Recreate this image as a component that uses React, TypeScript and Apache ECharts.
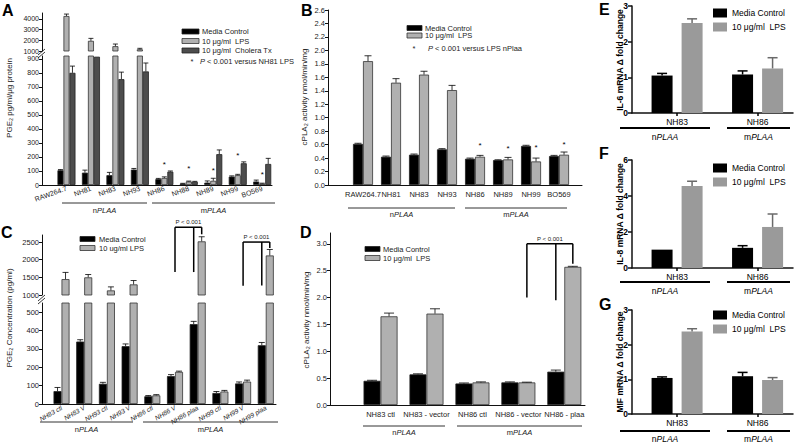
import React, { useEffect, useRef } from "react";
import * as echarts from "echarts";

const FONT = "'Liberation Sans', Arial, Helvetica, sans-serif";

// ---------- Panel A : PGE2 pg/ml/µg protein ----------
const aCategories = ["RAW264.7", "NH81", "NH83", "NH93", "NH86", "NH88", "NH89", "NH99", "BO569"];
const aMedia = [105, 88, 70, 110, 42, 10, 17, 60, 25];
const aMediaErr = [5, 18, 20, 8, 5, 2, 12, 5, 10];
const aLps = [4270, 1950, 1450, 1160, 50, 25, 30, 70, 10];
const aLpsErr = [180, 230, 200, 90, 8, 3, 18, 6, 3];
const aCholera = [800, 915, 755, 810, 95, 23, 220, 155, 150];
const aCholeraErr = [48, 8, 50, 60, 5, 3, 30, 10, 40];
const aStars = [null, null, null, null, 145, 115, 100, 210, 75];
const aUpperTicks = [1000, 2000, 3000, 4000];
const aLowerTicks = [0, 100, 200, 300, 400, 500, 600, 700, 800, 900];

// ---------- Panel B : cPLA2 activity ----------
const bCategories = ["RAW264.7", "NH81", "NH83", "NH93", "NH86", "NH89", "NH99", "BO569"];
const bMedia = [0.61, 0.42, 0.45, 0.53, 0.39, 0.37, 0.58, 0.43];
const bMediaErr = [0.01, 0.01, 0.01, 0.01, 0.01, 0.005, 0.01, 0.01];
const bLps = [1.84, 1.52, 1.64, 1.41, 0.42, 0.38, 0.35, 0.45];
const bLpsErr = [0.08, 0.06, 0.05, 0.07, 0.02, 0.03, 0.05, 0.04];
const bStars = [null, null, null, null, 0.58, 0.54, 0.56, 0.6];
const bTicks = [0, 0.2, 0.4, 0.6, 0.8, 1.0, 1.2, 1.4, 1.6, 1.8, 2.0, 2.2, 2.4, 2.6];

// ---------- Panel C : PGE2 concentration ----------
const cCategories = ["NH83 ctl", "NH83 V", "NH93 ctl", "NH93 V", "NH86 ctl", "NH86 V", "NH86 plaa", "NH99 ctl", "NH99 V", "NH99 plaa"];
const cMedia = [70, 340, 110, 315, 42, 152, 435, 60, 112, 320];
const cMediaErr = [20, 10, 8, 12, 4, 8, 15, 8, 8, 15];
const cLps = [1450, 1500, 1130, 1300, 47, 175, 2520, 68, 122, 2120];
const cLpsErr = [190, 80, 100, 110, 4, 4, 130, 6, 8, 170];
const cUpperTicks = [1000, 1500, 2000, 2500];
const cLowerTicks = [0, 100, 200, 300, 400, 500];

// ---------- Panel D : cPLA2 activity ----------
const dCategories = ["NH83 ctl", "NH83 - vector", "NH86 ctl", "NH86 - vector", "NH86 - plaa"];
const dMedia = [0.45, 0.57, 0.4, 0.42, 0.62];
const dMediaErr = [0.01, 0.01, 0.01, 0.01, 0.03];
const dLps = [1.65, 1.7, 0.42, 0.42, 2.57];
const dLpsErr = [0.06, 0.09, 0.01, 0.005, 0.01];
const dTicks = [0, 0.5, 1.0, 1.5, 2.0, 2.5, 3.0];

// ---------- Panels E, F, G : mRNA fold change ----------
const efgCategories = ["NH83", "NH86"];
const eMedia = [1.05, 1.08];
const eMediaErr = [0.06, 0.1];
const eLps = [2.52, 1.25];
const eLpsErr = [0.12, 0.3];
const eTicks = [0, 1, 2, 3];
const fMedia = [1.02, 1.12];
const fMediaErr = [0, 0.12];
const fLps = [4.55, 2.28];
const fLpsErr = [0.27, 0.72];
const fTicks = [0, 2, 4, 6];
const gMedia = [1.04, 1.09];
const gMediaErr = [0.03, 0.11];
const gLps = [2.38, 0.98];
const gLpsErr = [0.08, 0.07];
const gTicks = [0, 1, 2, 3];

// significance brackets (category index + value levels)
const cBrackets = [
  { left: 5, mid: 6, right: 6, top: 2920, leftEnd: 1650, midEnd: 1650, rightEnd: 2720 },
  { left: 8, mid: 9, right: 9, top: 2500, leftEnd: 1260, midEnd: 1270, rightEnd: 2330 },
];
const dBracket = { left: 3, mid: 4, right: 4, top: 3.0, leftEnd: 2.0, midEnd: 1.95, rightEnd: 2.63 };

const BLACK = "#000000";
const GREY = "#b0b0b0";
const DARK = "#4d4d4d";
const EFG_GREY = "#9a9a9a";
const TXT = "#222222";

export default function App() {
  const ref = useRef<HTMLDivElement>(null);
  useEffect(() => {
    const chart = echarts.init(ref.current!, null, { renderer: "svg", width: 800, height: 446 });

    const grids = [
      { left: 42, top: 13, width: 230, height: 38 }, // 0 A upper
      { left: 42, top: 56, width: 230, height: 129 }, // 1 A lower
      { left: 328, top: 10, width: 254, height: 175 }, // 2 B
      { left: 42, top: 235, width: 234, height: 60 }, // 3 C upper
      { left: 42, top: 303, width: 234, height: 101 }, // 4 C lower
      { left: 330, top: 233, width: 255, height: 172 }, // 5 D
      { left: 632, top: 6, width: 161, height: 107 }, // 6 E
      { left: 632, top: 160, width: 161, height: 108 }, // 7 F
      { left: 632, top: 310, width: 161, height: 104 }, // 8 G
    ];

    const xAx = (g: number, min: number, max: number, cats: string[] | null, lab: any, showLine = true, lw = 1, ticks = false) => ({
      type: "value", gridIndex: g, min, max,
      splitLine: { show: false },
      axisLine: { show: showLine, onZero: false, lineStyle: { color: "#111", width: lw } },
      axisTick: ticks && cats ? { show: true, customValues: cats.map((_, i) => i), length: 3, lineStyle: { color: "#000", width: lw } } : { show: false },
      axisLabel: cats
        ? { show: true, customValues: cats.map((_, i) => i), formatter: (v: number) => cats[Math.round(v)] ?? "", fontFamily: FONT, color: TXT, ...lab }
        : { show: false },
    });

    const yAx = (g: number, min: number, max: number, ticks: number[], fmt: (v: number) => string, opts: any = {}) => ({
      type: "value", gridIndex: g, min, max,
      splitLine: { show: false },
      axisLine: { show: true, onZero: false, lineStyle: { color: "#111", width: opts.lw ?? 1 } },
      axisTick: { show: true, customValues: ticks, length: opts.tickLen ?? 3, lineStyle: { color: "#111", width: opts.lw ?? 1 } },
      axisLabel: {
        customValues: ticks, formatter: fmt, fontFamily: FONT, fontSize: opts.fontSize ?? 7.5,
        fontWeight: opts.bold ? "bold" : "normal", color: opts.color ?? TXT, margin: opts.margin ?? 3,
      },
    });

    const intFmt = (v: number) => String(Math.round(v));
    const f1 = (v: number) => v.toFixed(1);

    const xAxis = [
      xAx(0, -1.0, 8.4, null, {}, false),
      xAx(1, -1.0, 8.4, aCategories, { rotate: 20, fontSize: 7, margin: 3 }),
      xAx(2, -1.25, 7.82, bCategories, { fontSize: 7.5, margin: 5 }),
      xAx(3, -0.86, 9.45, null, {}, false),
      xAx(4, -0.86, 9.45, cCategories, { rotate: 30, fontSize: 6.5, fontStyle: "italic", margin: 3 }),
      xAx(5, -1.1, 4.45, dCategories, { fontSize: 7.5, margin: 5 }),
      xAx(6, -0.56, 1.44, efgCategories, { fontSize: 8.5, margin: 4, color: "#000" }, true, 1.5, true),
      xAx(7, -0.56, 1.44, efgCategories, { fontSize: 8.5, margin: 4, color: "#000" }, true, 1.5, true),
      xAx(8, -0.56, 1.44, efgCategories, { fontSize: 8.5, margin: 4, color: "#000" }, true, 1.5, true),
    ];
    const efgOpts = { lw: 1.5, bold: true, fontSize: 8.5, color: "#000", tickLen: 4, margin: 4 };
    const yAxis = [
      yAx(0, 1000, 4550, aUpperTicks, intFmt, { fontSize: 7 }),
      yAx(1, 0, 920, aLowerTicks, intFmt, { fontSize: 7 }),
      yAx(2, 0, 2.6, bTicks, f1),
      yAx(3, 1000, 2700, cUpperTicks, intFmt),
      yAx(4, 0, 550, cLowerTicks, intFmt),
      yAx(5, 0, 3.2, dTicks, f1),
      yAx(6, 0, 3, eTicks, intFmt, efgOpts),
      yAx(7, 0, 6, fTicks, intFmt, efgOpts),
      yAx(8, 0, 3, gTicks, intFmt, efgOpts),
    ];
    const yMax = [4550, 920, 2.6, 2700, 550, 3.2, 3, 6, 3];
    const yMin = [1000, 0, 0, 1000, 0, 0, 0, 0, 0];

    const series: any[] = [];
    const addBars = (g: number, values: number[], color: string, width: number, gap: string, border: string | null) => {
      series.push({
        type: "bar", xAxisIndex: g, yAxisIndex: g, silent: true, clip: true,
        data: values.map((v, i) => [i, v]), barWidth: width, barGap: gap,
        itemStyle: { color, borderColor: border ?? color, borderWidth: border ? 0.8 : 0 },
      });
    };
    const addErr = (g: number, values: number[], errs: number[], offset: number, cap: number, color: string, lw: number) => {
      const data = values
        .map((v, i) => [i, v, errs[i]])
        .filter((d) => d[2] > 0 && d[1] >= yMin[g] && d[1] + d[2] <= yMax[g]);
      series.push({
        type: "custom", xAxisIndex: g, yAxisIndex: g, silent: true, clip: true, z: 5, data,
        renderItem: (_p: any, api: any) => {
          const x = api.value(0), v = api.value(1), e = api.value(2);
          const b = api.coord([x, v]);
          const t = api.coord([x, v + e]);
          const cx = b[0] + offset;
          return {
            type: "group",
            children: [
              { type: "line", shape: { x1: cx, y1: b[1], x2: cx, y2: t[1] }, style: { stroke: color, lineWidth: lw } },
              { type: "line", shape: { x1: cx - cap, y1: t[1], x2: cx + cap, y2: t[1] }, style: { stroke: color, lineWidth: lw } },
            ],
          };
        },
      });
    };
    const addStars = (g: number, values: (number | null)[], offset: number) => {
      const data = values.map((v, i) => [i, v]).filter((d) => d[1] != null);
      series.push({
        type: "custom", xAxisIndex: g, yAxisIndex: g, silent: true, z: 6, data,
        renderItem: (_p: any, api: any) => {
          const p = api.coord([api.value(0), api.value(1)]);
          return { type: "text", x: p[0] + offset, y: p[1], style: { text: "*", fontSize: 8, fontFamily: FONT, fill: "#000", align: "center", verticalAlign: "middle" } };
        },
      });
    };

    // A
    for (const g of [0, 1]) {
      addBars(g, aMedia, BLACK, 6, "0%", "#222");
      addBars(g, aLps, GREY, 6, "0%", "#333");
      addBars(g, aCholera, DARK, 6, "0%", "#222");
      addErr(g, aMedia, aMediaErr, -6, 2.5, "#000", 0.8);
      addErr(g, aLps, aLpsErr, 0, 2.5, "#000", 0.8);
      addErr(g, aCholera, aCholeraErr, 6, 2.5, "#000", 0.8);
    }
    addStars(1, aStars, 0);
    // B
    addBars(2, bMedia, BLACK, 10, "0%", "#222");
    addBars(2, bLps, GREY, 10, "0%", "#333");
    addErr(2, bMedia, bMediaErr, -5, 3.5, "#000", 0.8);
    addErr(2, bLps, bLpsErr, 5, 3.5, "#000", 0.8);
    addStars(2, bStars, 5);
    // C
    for (const g of [3, 4]) {
      addBars(g, cMedia, BLACK, 8, "0%", "#222");
      addBars(g, cLps, GREY, 8, "0%", "#333");
      addErr(g, cMedia, cMediaErr, -4, 3, "#000", 0.8);
      addErr(g, cLps, cLpsErr, 4, 3, "#000", 0.8);
    }
    // D
    addBars(5, dMedia, BLACK, 17, "0%", "#222");
    addBars(5, dLps, GREY, 17, "0%", "#333");
    addErr(5, dMedia, dMediaErr, -8.5, 5, "#000", 0.8);
    addErr(5, dLps, dLpsErr, 8.5, 5, "#000", 0.8);
    // E F G
    const efg = [
      [6, eMedia, eMediaErr, eLps, eLpsErr],
      [7, fMedia, fMediaErr, fLps, fLpsErr],
      [8, gMedia, gMediaErr, gLps, gLpsErr],
    ] as any[];
    for (const [g, m, me, l, le] of efg) {
      addBars(g, m, BLACK, 21, "43%", null);
      addBars(g, l, EFG_GREY, 21, "43%", null);
      addErr(g, m, me, -15, 5, "#000", 1.5);
      addErr(g, l, le, 15, 5, "#6a6a6a", 1.5);
    }

    chart.setOption({
      animation: false,
      backgroundColor: "#ffffff",
      textStyle: { fontFamily: FONT },
      grid: grids.map((g) => ({ ...g, containLabel: false })),
      xAxis, yAxis, series,
    });

    // ---------- graphic annotations ----------
    const els: any[] = [];
    const text = (x: number, y: number, t: string, o: any = {}) =>
      els.push({
        type: "text", x, y, rotation: o.rotation ?? 0, silent: true,
        style: {
          text: t, fontSize: o.fontSize ?? 7.5, fontFamily: FONT, fill: o.fill ?? TXT, fontWeight: o.bold ? "bold" : "normal",
          fontStyle: o.italic ? "italic" : "normal", align: o.align ?? "left", verticalAlign: o.va ?? "middle", rich: o.rich,
        },
      });
    const line = (x1: number, y1: number, x2: number, y2: number, stroke = "#222", lw = 1) =>
      els.push({ type: "line", silent: true, shape: { x1, y1, x2, y2 }, style: { stroke, lineWidth: lw } });
    const rect = (x: number, y: number, w: number, h: number, fill: string, stroke: string | null = null) =>
      els.push({ type: "rect", silent: true, shape: { x, y, width: w, height: h }, style: { fill, stroke: stroke ?? fill, lineWidth: stroke ? 0.8 : 0 } });
    const richPlaa = (fs: number, fill = TXT) => ({
      a: { fontSize: fs, fontFamily: FONT, fill },
      b: { fontSize: fs, fontFamily: FONT, fill, fontStyle: "italic" },
    });
    const group = (x1: number, x2: number, y: number, ty: number, prefix: string, fs: number, lw = 1, stroke = "#333", fill = TXT) => {
      line(x1, y, x2, y, stroke, lw);
      text((x1 + x2) / 2, ty, `{a|${prefix}}{b|PLAA}`, { align: "center", rich: richPlaa(fs, fill), fontSize: fs });
    };

    // panel letters
    const letter = (x: number, y: number, t: string) => text(x, y, t, { fontSize: 16, bold: true, fill: "#000", va: "top" });
    letter(2, 2, "A");
    letter(301, 2, "B");
    letter(1, 224, "C");
    letter(300, 224, "D");
    letter(599, 1, "E");
    letter(599, 145, "F");
    letter(599, 296, "G");

    // y axis titles
    const yTitle = (x: number, y: number, t: string, o: any = {}) => text(x, y, t, { rotation: Math.PI / 2, align: "center", fontSize: 8, ...o });
    yTitle(9, 98, "PGE₂ pg/ml/μg protein");
    yTitle(304, 97, "cPLA₂ activity nmol/min/mg");
    yTitle(9, 318, "PGE₂ Concentration (pg/ml)");
    yTitle(306, 320, "cPLA₂ activity nmol/min/mg");
    yTitle(620, 60, "IL-6 mRNA Δ fold change", { bold: true, fill: "#000", fontSize: 8.5 });
    yTitle(620, 214, "IL-8 mRNA Δ fold change", { bold: true, fill: "#000", fontSize: 8.5 });
    yTitle(620, 362, "MIF mRNA Δ fold change", { bold: true, fill: "#000", fontSize: 8.5 });

    // axis breaks
    const brk = (x: number, y: number) => {
      els.push({ type: "rect", silent: true, shape: { x: x - 3, y: y - 3, width: 6, height: 6 }, style: { fill: "#fff" } });
      line(x - 4, y + 1, x + 3, y - 5, "#222", 0.9);
      line(x - 4, y + 4, x + 3, y - 2, "#222", 0.9);
    };
    brk(42, 54);
    brk(42, 300);

    // legends
    const rich75 = {
      i: { fontSize: 7.5, fontFamily: FONT, fontStyle: "italic", fill: TXT },
      n: { fontSize: 7.5, fontFamily: FONT, fill: TXT },
    };
    // A
    rect(182, 29, 17, 5, BLACK, "#222");
    text(202, 31.5, "Media Control");
    rect(182, 38.5, 17, 5, GREY, "#333");
    text(202, 41, "10 μg/ml  LPS");
    rect(182, 48, 17, 5, DARK, "#222");
    text(202, 50.5, "10 μg/ml  Cholera Tx");
    text(192, 61, "*", { align: "center" });
    text(200, 61, "{i|P}{n| < 0.001 versus NH81 LPS}", { rich: rich75 });
    // B
    rect(407, 25.5, 15, 5, BLACK, "#222");
    text(425, 28, "Media Control");
    rect(407, 33, 15, 5, GREY, "#333");
    text(425, 35.5, "10 μg/ml  LPS");
    text(414, 48, "*", { align: "center" });
    text(428, 48, "{i|P}{n| < 0.001 versus LPS nPlaa}", { rich: rich75 });
    // C
    rect(80, 236.5, 15, 5, BLACK, "#222");
    text(99, 239, "Media Control");
    rect(80, 245.5, 15, 5, GREY, "#333");
    text(99, 248, "10 ug/ml LPS");
    // D
    rect(365, 246.5, 15, 5, BLACK, "#222");
    text(383, 249, "Media Control");
    rect(365, 255.5, 15, 5, GREY, "#333");
    text(383, 258, "10 μg/ml  LPS");
    // E F G
    for (const y of [13, 168, 315]) {
      rect(713, y - 4.5, 14, 9, BLACK);
      text(732, y, "Media Control", { fontSize: 8.5, fill: "#000" });
      rect(713, y + 9.5, 14, 9, EFG_GREY);
      text(732, y + 14, "10 μg/ml  LPS", { fontSize: 8.5, fill: "#000" });
    }

    // group lines
    group(62, 147, 203, 210, "n", 7.5);
    group(152, 275, 203, 210, "m", 7.5);
    group(348, 455, 208, 214, "n", 7.5);
    group(465, 567, 208, 214, "m", 7.5);
    group(40, 133, 422, 429, "n", 7.5);
    group(143, 278, 422, 429, "m", 7.5);
    group(363, 445, 426, 432, "n", 7.5);
    group(457, 582, 426, 432, "m", 7.5);
    for (const [ly, ty] of [[128, 137], [282, 291], [431, 439]]) {
      group(620, 710, ly, ty, "n", 8.5, 1.8, "#000", "#000");
      group(727, 790, ly, ty, "m", 8.5, 1.8, "#000", "#000");
    }

    // significance brackets
    const px = (g: number, x: number, y: number) => chart.convertToPixel({ gridIndex: g } as any, [x, y]) as unknown as number[];
    const bracket = (g: number, b: any, offMid: number, offRight: number, fs: number) => {
      const L = px(g, b.left, b.top), Lb = px(g, b.left, b.leftEnd);
      const M = px(g, b.mid, b.top), Mb = px(g, b.mid, b.midEnd);
      const R = px(g, b.right, b.top), Rb = px(g, b.right, b.rightEnd);
      const lx = L[0] + (b.leftOff ?? 0), mx = M[0] + offMid, rx = R[0] + offRight;
      line(lx, L[1], rx, L[1], "#000", 1.5);
      line(lx, L[1], lx, Lb[1], "#000", 1.5);
      line(mx, M[1], mx, Mb[1], "#000", 1.5);
      line(rx, R[1], rx, Rb[1], "#000", 1.5);
      text((lx + rx) / 2, L[1] - 2, "P < 0.001", { align: "center", va: "bottom", fontSize: fs });
    };
    bracket(3, cBrackets[0], -4, 4, 6);
    bracket(3, cBrackets[1], -4, 4, 6);
    bracket(5, { ...dBracket, leftOff: 8.5 }, -8.5, 8.5, 6);

    chart.setOption({ graphic: { elements: els } });

    return () => chart.dispose();
  }, []);
  return <div ref={ref} style={{ position: "absolute", left: 0, top: 0, width: 800, height: 446, background: "#fff" }} />;
}
